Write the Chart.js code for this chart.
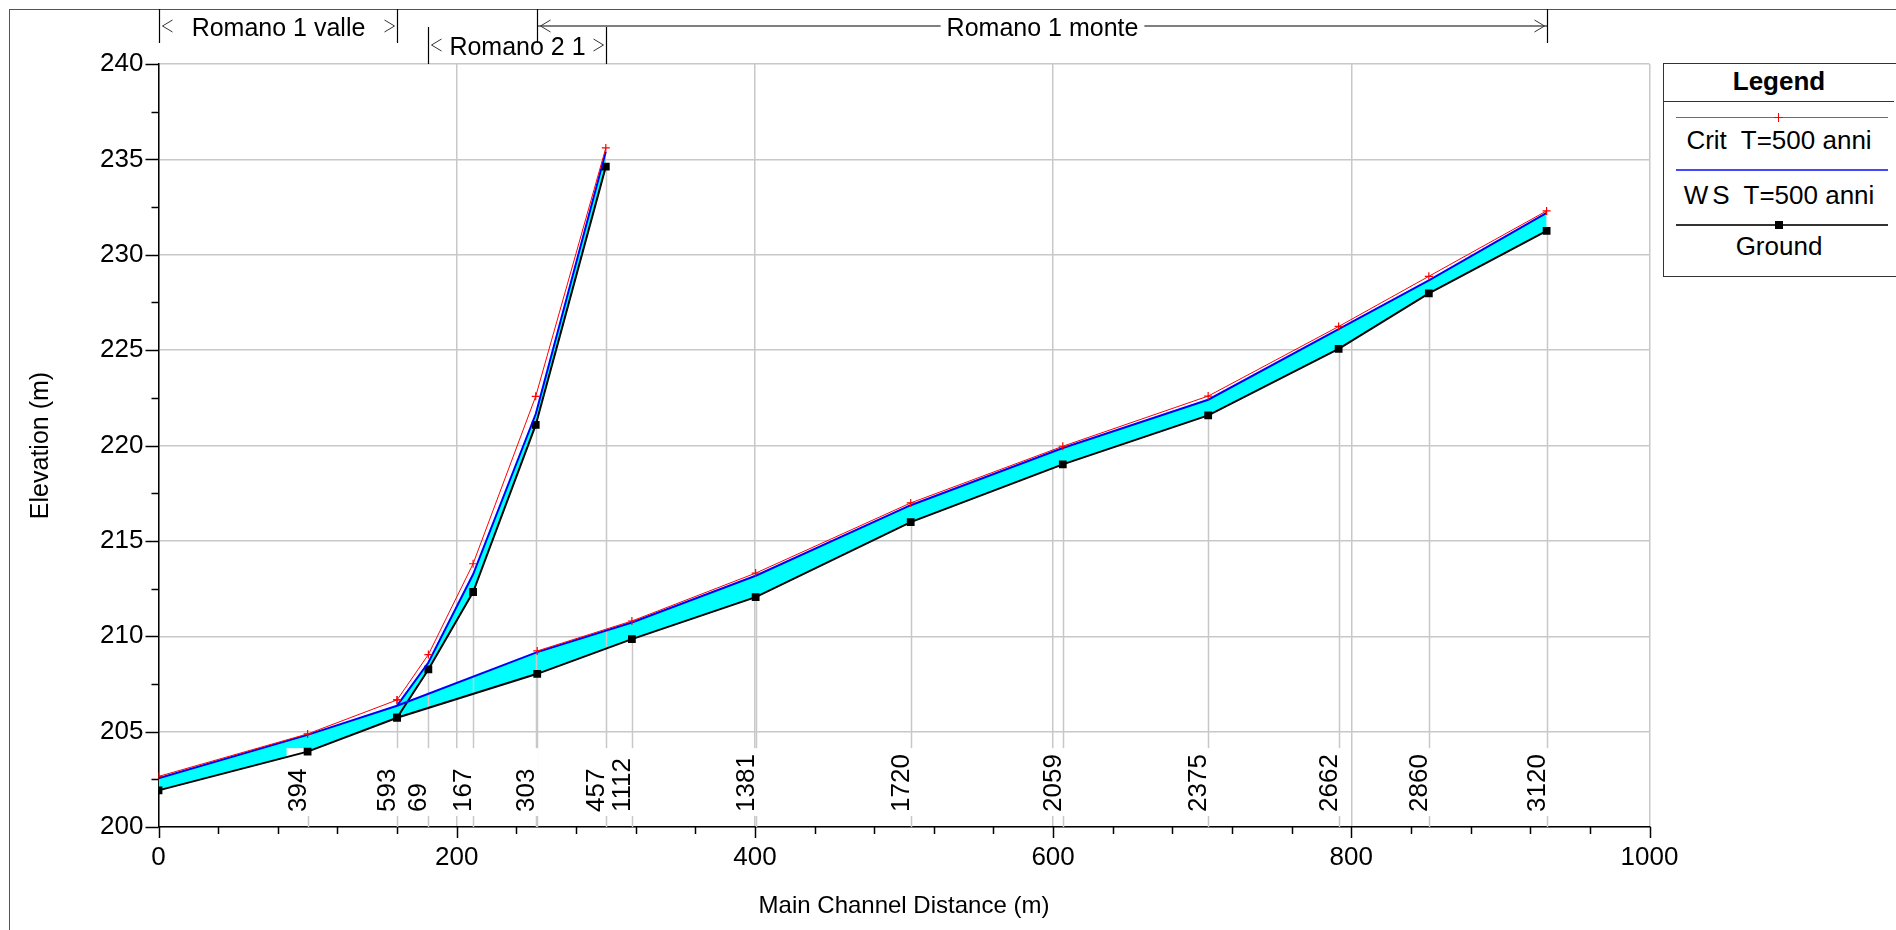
<!DOCTYPE html>
<html>
<head>
<meta charset="utf-8">
<title>Romano profile</title>
<script src="https://cdn.jsdelivr.net/npm/chart.js@4.4.1/dist/chart.umd.min.js"></script>
<style>
  html, body { margin: 0; padding: 0; background: #fff; overflow: hidden; }
  #wrap { position: relative; width: 1896px; height: 930px; }
  #frame { position: absolute; left: 9px; top: 9px; width: 1900px; height: 940px; border: 1.5px solid #555; box-sizing: border-box; }
  #chart { position: absolute; left: 0; top: 0; }
  #legend { position: absolute; left: 1663px; top: 63px; width: 245px; height: 214px; border: 1.5px solid #333; box-sizing: border-box; background: #fff;
            font-family: "Liberation Sans", Arial, sans-serif; font-size: 26px; color: #000; }
  #legend .head { position: absolute; left: 0; top: 0; width: 230px; height: 37px; line-height: 34px; text-align: center; font-weight: bold; border-bottom: 1.5px solid #333; }
  #legend .txt { position: absolute; left: 0; width: 230px; text-align: center; white-space: pre; line-height: 26px; }
  #legend .ln { position: absolute; left: 12px; width: 212px; }
  #legend .mk { position: absolute; }
</style>
</head>
<body>
<div id="wrap">
  <div id="frame"></div>
  <canvas id="chart" width="1896" height="930"></canvas>
  <div id="legend">
    <div class="head">Legend</div>
    <div class="ln" style="top:53px;border-top:1px solid #ff3030"></div>
    <div class="mk" style="left:114px;top:49px;width:1px;height:9px;background:#f00"></div>
    <div class="mk" style="left:110px;top:53px;width:9px;height:1px;background:#f00"></div>
    <div class="txt" style="top:63px">Crit  T=500 anni</div>
    <div class="ln" style="top:105px;border-top:2px solid #4646ff"></div>
    <div class="txt" style="top:118px"><span style="letter-spacing:4px">W</span>S  T=500 anni</div>
    <div class="ln" style="top:160px;border-top:2px solid #333"></div>
    <div class="mk" style="left:111px;top:157px;width:8px;height:8px;background:#000"></div>
    <div class="txt" style="top:169px">Ground</div>
  </div>
</div>
<script>
// Romano 1 valle (downstream reach)
const valleDist   = [0, 100, 160]
const valleGround = [201.92, 203.95, 205.73]
const valleWS     = [202.56, 204.83, 206.36]
const valleCrit   = [202.65, 204.88, 206.66]
const valleSta    = ['', '394', '593']

// Romano 1 monte (upstream reach)
const monteDist   = [254, 317.5, 400.5, 504.5, 606.5, 704, 791.5, 852, 931]
const monteGround = [208.03, 209.85, 212.05, 215.98, 219.01, 221.58, 225.07, 227.97, 231.25]
const monteWS     = [209.17, 210.72, 213.17, 216.87, 219.87, 222.40, 226.10, 228.66, 232.20]
const monteCrit   = [209.23, 210.80, 213.31, 216.99, 219.96, 222.59, 226.24, 228.87, 232.30]
const monteSta    = ['', '1112', '1381', '1720', '2059', '2375', '2662', '2860', '3120']

// Romano 2 1 (tributary, joins at the end of Romano 1 valle)
const tribDist   = [181, 211, 253, 300]
const tribGround = [208.26, 212.32, 221.08, 234.62]
const tribWS     = [208.62, 213.25, 221.65, 235.40]
const tribCrit   = [209.04, 213.80, 222.58, 235.60]
const tribSta    = ['69', '167', '303', '457']

// reach brackets above the plot
const reachNames = ['Romano 1 valle', 'Romano 2 1', 'Romano 1 monte']
const reachFrom  = [0, 181, 254]
const reachTo    = [160, 300, 931]

const FONT = '"Liberation Sans", Arial, sans-serif'
const pts = (xs, ys) => xs.map((x, i) => ({x: x, y: ys[i]}))
const last = a => a[a.length - 1]

// junction point goes in front of the tributary
const jDist = last(valleDist)
const mainGround = pts(valleDist.concat(monteDist), valleGround.concat(monteGround))
const mainWS = pts(valleDist.concat(monteDist), valleWS.concat(monteWS))
const tGround = pts([jDist].concat(tribDist), [last(valleGround)].concat(tribGround))
const tWS = pts([jDist].concat(tribDist), [last(valleWS)].concat(tribWS))
const tCrit = pts([jDist].concat(tribDist), [last(valleCrit)].concat(tribCrit))

// stations: line from ground down to the axis, label above the axis
const stations = []
valleDist.forEach((d, i) => stations.push({d: d, g: valleGround[i], s: valleSta[i]}))
tribDist.forEach((d, i) => stations.push({d: d, g: tribGround[i], s: tribSta[i]}))
monteDist.forEach((d, i) => stations.push({d: d, g: monteGround[i], s: monteSta[i]}))

const overlay = {
  id: 'overlay',
  beforeDatasetsDraw(chart) {
    const {ctx, chartArea: a, scales: {x, y}} = chart
    ctx.save()
    ctx.strokeStyle = '#c8c8c8'
    ctx.lineWidth = 1.5
    stations.forEach(st => {
      if (st.d === 0) return
      const px = Math.round(x.getPixelForValue(st.d)) + 0.5
      ctx.beginPath()
      ctx.moveTo(px, y.getPixelForValue(st.g))
      ctx.lineTo(px, a.bottom)
      ctx.stroke()
    })
    ctx.font = '26px ' + FONT
    const boxLen = ctx.measureText('0000').width + 10
    const y0 = a.bottom - 15
    const labelled = stations.filter(st => st.s)
    ctx.fillStyle = '#fff'
    labelled.forEach(st => {
      const px = x.getPixelForValue(st.d)
      ctx.fillRect(px - 21, y0 - boxLen + 4, 24, boxLen)
    })
    ctx.fillStyle = '#000'
    ctx.textAlign = 'left'
    ctx.textBaseline = 'alphabetic'
    labelled.forEach(st => {
      const px = x.getPixelForValue(st.d)
      ctx.save()
      ctx.translate(px - 2, y0)
      ctx.rotate(-Math.PI / 2)
      ctx.fillText(st.s, 0, 0)
      ctx.restore()
    })
    ctx.restore()
  },
  afterDraw(chart) {
    const {ctx, chartArea: a, scales: {x, y}} = chart
    ctx.save()
    // axis ticks, long for labelled values
    ctx.strokeStyle = '#000'
    ctx.lineWidth = 1.5
    x.ticks.forEach(t => {
      const px = Math.round(x.getPixelForValue(t.value)) + 0.5
      const len = t.value % 200 === 0 ? 11 : 7
      ctx.beginPath(); ctx.moveTo(px, a.bottom); ctx.lineTo(px, a.bottom + len); ctx.stroke()
    })
    y.ticks.forEach(t => {
      const py = Math.round(y.getPixelForValue(t.value)) + 0.5
      const len = t.value % 5 === 0 ? 13 : 7
      ctx.beginPath(); ctx.moveTo(a.left - len, py); ctx.lineTo(a.left, py); ctx.stroke()
    })

    // reach brackets
    ctx.font = '25px ' + FONT
    ctx.textAlign = 'center'
    ctx.textBaseline = 'middle'
    const rows = [
      {top: 9, bot: 43, line: 26, text: 29},
      {top: 27, bot: 64, line: 45, text: 48},
      {top: 9, bot: 43, line: 26, text: 29}
    ]
    reachNames.forEach((name, i) => {
      const r = rows[i]
      const x0 = Math.round(x.getPixelForValue(reachFrom[i])) + 0.5
      const x1 = Math.round(x.getPixelForValue(reachTo[i])) + 0.5
      const cx = (x0 + x1) / 2
      const w = ctx.measureText(name).width
      ctx.strokeStyle = '#000'
      ctx.lineWidth = 1.2
      ctx.beginPath()
      ctx.moveTo(x0, r.top); ctx.lineTo(x0, r.bot)
      ctx.moveTo(x1, r.top); ctx.lineTo(x1, r.bot)
      if (x1 - x0 > w + 120) {
        ctx.moveTo(x0, r.line); ctx.lineTo(cx - w / 2 - 6, r.line)
        ctx.moveTo(cx + w / 2 + 6, r.line); ctx.lineTo(x1, r.line)
      }
      ctx.stroke()
      ctx.strokeStyle = '#333'
      ctx.lineWidth = 1
      ctx.beginPath()
      ctx.moveTo(x0 + 13, r.line - 6); ctx.lineTo(x0 + 3, r.line); ctx.lineTo(x0 + 13, r.line + 6)
      ctx.moveTo(x1 - 13, r.line - 6); ctx.lineTo(x1 - 3, r.line); ctx.lineTo(x1 - 13, r.line + 6)
      ctx.stroke()
      ctx.fillStyle = '#000'
      ctx.fillText(name, cx, r.text)
    })
    ctx.restore()
  }
}

new Chart(document.getElementById('chart'), {
  type: 'line',
  data: {
    datasets: [
      {label: 'Ground', data: mainGround, borderColor: '#000', backgroundColor: '#000', borderWidth: 2,
       pointStyle: 'rect', pointRadius: 5.5, pointBorderWidth: 0, order: 2},
      {label: 'WS T=500 anni', data: mainWS, borderColor: '#0000ff', borderWidth: 2, pointRadius: 0,
       fill: {target: 0, above: '#00ffff', below: '#00ffff'}, backgroundColor: '#00ffff', order: 1},
      {label: 'Ground trib', data: tGround, borderColor: '#000', backgroundColor: '#000', borderWidth: 2,
       pointStyle: 'rect', pointRadius: 5.5, pointBorderWidth: 0, order: 2},
      {label: 'WS trib', data: tWS, borderColor: '#0000ff', borderWidth: 2, pointRadius: 0,
       fill: {target: 2, above: '#00ffff', below: '#00ffff'}, backgroundColor: '#00ffff', order: 1},
      {label: 'Crit valle', data: pts(valleDist, valleCrit), borderColor: '#ff0000', borderWidth: 1,
       pointStyle: 'cross', pointRadius: 4, pointBorderWidth: 1.2, pointBorderColor: '#ff0000', order: 0},
      {label: 'Crit monte', data: pts(monteDist, monteCrit), borderColor: '#ff0000', borderWidth: 1,
       pointStyle: 'cross', pointRadius: 4, pointBorderWidth: 1.2, pointBorderColor: '#ff0000', order: 0},
      {label: 'Crit trib', data: tCrit, borderColor: '#ff0000', borderWidth: 1,
       pointStyle: 'cross', pointRadius: 4, pointBorderWidth: 1.2, pointBorderColor: '#ff0000', order: 0}
    ]
  },
  options: {
    responsive: false,
    animation: false,
    events: [],
    layout: {padding: {left: 0, top: 64, right: 246.5, bottom: 0}},
    elements: {line: {tension: 0}},
    plugins: {
      legend: {display: false},
      tooltip: {enabled: false},
      filler: {drawTime: 'beforeDatasetsDraw'}
    },
    scales: {
      x: {
        type: 'linear', min: 0, max: 1000,
        afterFit(s) { s.height = 103 },
        ticks: {stepSize: 40, padding: 15, maxRotation: 0, autoSkip: false, color: '#000',
                font: {family: FONT, size: 26},
                callback: v => v % 200 === 0 ? v : ''},
        grid: {drawTicks: false, lineWidth: 1.5,
               color: c => c.tick && c.tick.value % 200 === 0 ? '#c8c8c8' : 'rgba(0,0,0,0)'},
        border: {color: '#000', width: 1.5},
        title: {display: true, text: 'Main Channel Distance (m)', color: '#000',
                font: {family: FONT, size: 24}, padding: {top: 0, bottom: 9}}
      },
      y: {
        min: 200, max: 240,
        afterFit(s) { s.width = 158.5 },
        ticks: {stepSize: 2.5, padding: 15, autoSkip: false, color: '#000',
                font: {family: FONT, size: 26},
                callback: v => v % 5 === 0 ? v : ''},
        grid: {drawTicks: false, lineWidth: 1.5,
               color: c => c.tick && c.tick.value % 5 === 0 ? '#c8c8c8' : 'rgba(0,0,0,0)'},
        border: {color: '#000', width: 1.5},
        title: {display: true, text: 'Elevation (m)', color: '#000',
                font: {family: FONT, size: 25}, padding: {top: 26, bottom: 0}}
      }
    }
  },
  plugins: [overlay]
})
</script>
</body>
</html>
